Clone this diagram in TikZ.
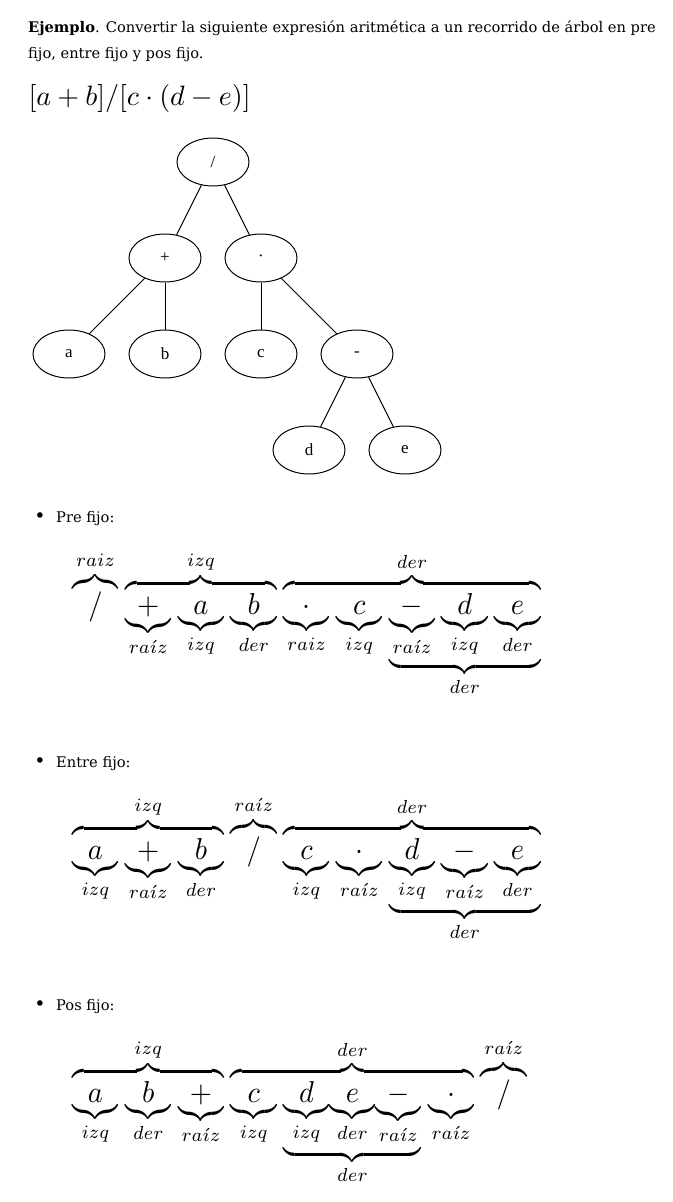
\documentclass[tikz,border=0pt]{standalone}
\usepackage{graphicx}
\usepackage{fontspec}
\setmainfont{DejaVu Serif}
\newfontfamily\treefont{Liberation Serif}
\usetikzlibrary{shapes.geometric}
\newlength\bw \setlength\bw{18pt}
\newcommand\Bx[1]{\hbox to \bw{\hfil\scalebox{1.12}{$#1$}\hfil}}
\newcommand\Ux[2]{{\underbrace{\Bx{#1}}_{#2}}}
\newcommand\Gx{\kern2.69pt}
\newcommand\raizA{ra\acute{\imath}z}
\tikzset{
  tnode/.style={draw, ellipse, line width=1pt, minimum width=72pt, minimum height=48pt, inner sep=0pt, font=\treefont\fontsize{17}{19}\selectfont},
  tedge/.style={line width=1pt},
  mathrow/.style={inner sep=0pt, xscale=2.55, yscale=2.7, anchor=base west},
  bodytext/.style={inner sep=0pt, anchor=base west, font=\fontsize{14.65}{17}\selectfont},
  bullet/.style={inner sep=0pt, anchor=base, font=\fontsize{19}{20}\selectfont}
}
\begin{document}
\begin{tikzpicture}[x=1pt,y=-1pt]
\fill[white] (0,0) rectangle (672,1202);
\useasboundingbox (0,0) rectangle (672,1202);
% heading text
\node[bodytext] (l1) at (28,32) {\textbf{Ejemplo}. Convertir la siguiente expresión aritmética a un recorrido de árbol en pre};
\node[bodytext] (l2) at (28,58) {fijo, entre fijo y pos fijo.};
\node[inner sep=0pt, scale=2.8, anchor=base west] (expr) at (28,105.5) {$[a+b]/[c\cdot(d-e)]$};
% tree
\node[tnode] (div) at (213,162) {/};
\node[tnode] (plus) at (165,258) {+};
\node[tnode] (dot) at (261,258) {·};
\node[tnode] (a) at (69,354) {a};
\node[tnode] (b) at (165,354) {b};
\node[tnode] (c) at (261,354) {c};
\node[tnode] (minus) at (357,354) {-};
\node[tnode] (d) at (309,450) {d};
\node[tnode] (e) at (405,450) {e};
\draw[tedge] (div) -- (plus);
\draw[tedge] (div) -- (dot);
\draw[tedge] (plus) -- (a);
\draw[tedge] (plus) -- (b);
\draw[tedge] (dot) -- (c);
\draw[tedge] (dot) -- (minus);
\draw[tedge] (minus) -- (d);
\draw[tedge] (minus) -- (e);
% Pre fijo
\node[bullet] (b1) at (40,522) {•};
\node[bodytext] (t1) at (56,522) {Pre fijo:};
\node[mathrow] (pre) at (72,614) {$
{\overbrace{\Bx{/}}^{raiz}}\Gx
{\overbrace{\Ux{+}{\raizA}\Gx\Ux{a}{izq}\Gx\Ux{b}{der}}^{izq}}\Gx
{\overbrace{\Ux{\cdot}{raiz}\Gx\Ux{c}{izq}\Gx{\underbrace{\Ux{-}{\raizA}\Gx\Ux{d}{izq}\Gx\Ux{e}{der}}_{der}}}^{der}}
$};
% Entre fijo
\node[bullet] (b2) at (40,767) {•};
\node[bodytext] (t2) at (56,767) {Entre fijo:};
\node[mathrow] (entre) at (72,859) {$
{\overbrace{\Ux{a}{izq}\Gx\Ux{+}{\raizA}\Gx\Ux{b}{der}}^{izq}}\Gx
{\overbrace{\Bx{/}}^{\raizA}}\Gx
{\overbrace{\Ux{c}{izq}\Gx\Ux{\cdot}{\raizA}\Gx{\underbrace{\Ux{d}{izq}\Gx\Ux{-}{\raizA}\Gx\Ux{e}{der}}_{der}}}^{der}}
$};
% Pos fijo
\node[bullet] (b3) at (40,1010) {•};
\node[bodytext] (t3) at (56,1010) {Pos fijo:};
\node[mathrow] (pos) at (72,1102) {$
{\overbrace{\Ux{a}{izq}\Gx\Ux{b}{der}\Gx\Ux{+}{\raizA}}^{izq}}\Gx
{\overbrace{\Ux{c}{izq}\Gx{\underbrace{\Ux{d}{izq}\Ux{e}{der}\Ux{-}{\raizA}}_{der}}\Gx\Ux{\cdot}{\raizA}}^{der}}\Gx
{\overbrace{\Bx{/}}^{\raizA}}
$};
\end{tikzpicture}
\end{document}
